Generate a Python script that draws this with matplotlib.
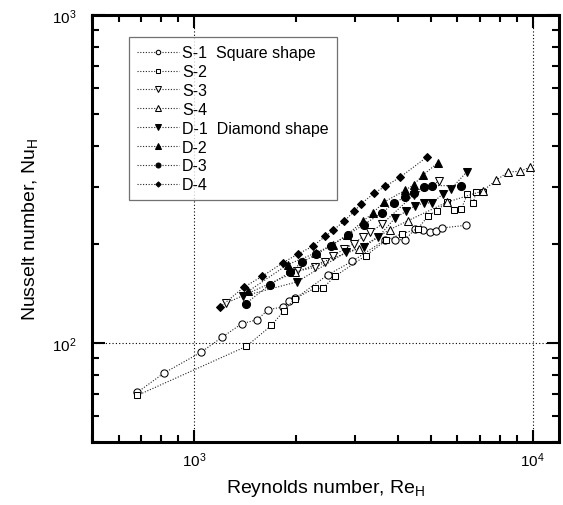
import matplotlib
matplotlib.use('Agg')
import matplotlib.pyplot as plt
from matplotlib.ticker import LogLocator, NullFormatter

plt.rcParams['font.family'] = ['Liberation Sans', 'DejaVu Sans']
plt.rcParams['mathtext.default'] = 'regular'

# Reynolds number / Nusselt number
re_s1 = [681, 817, 1050, 1215, 1385, 1539, 1659, 1829, 1910, 1996, 2491, 2933,
         3677, 3927, 4205, 4501, 4760, 4985, 5196, 5403, 6340]
nu_s1 = [70.7, 81.0, 93.7, 104.3, 114.5, 117.8, 126.4, 128.8, 134.3, 136.8, 161.6, 177.4,
         206.5, 206.5, 206.5, 222.6, 221.6, 217.9, 219.0, 224.2, 228.5]

re_s2 = [681, 1430, 1696, 1847, 1987, 2272, 2402, 2609, 3217, 3696, 4114, 4578,
         4926, 5209, 5577, 5868, 6161, 6422, 6677, 6808, 7131]
nu_s2 = [69.2, 97.7, 113.2, 125.5, 136.6, 146.8, 146.8, 159.7, 184.6, 205.6, 215.4, 222.6,
         244.5, 253.3, 268.5, 253.9, 256.3, 284.6, 267.3, 288.6, 288.0]

re_s3 = [1248, 2016, 2272, 2443, 2577, 2773, 2969, 3155, 3320, 3589, 4457, 5285]
nu_s3 = [132.4, 165.4, 170.1, 176.2, 184.6, 193.0, 200.9, 210.9, 217.9, 230.1, 282.7, 311.2]

re_s4 = [1987, 3065, 3786, 4288, 5577, 7131, 7803, 8475, 9184, 9806]
nu_s4 = [164.2, 194.0, 221.6, 236.0, 268.5, 291.0, 313.4, 332.3, 333.9, 343.4]

re_d1 = [1400, 2016, 2807, 3170, 3494, 3927, 4236, 4501, 4783, 5047, 5456, 5741, 6391]
nu_d1 = [139.0, 153.6, 188.9, 196.2, 209.9, 240.5, 252.1, 262.3, 267.3, 267.3, 285.3, 294.9, 332.3]

re_d2 = [1447, 1892, 2288, 2577, 2835, 3155, 3377, 3634, 4205, 4457, 4760, 5248]
nu_d2 = [143.7, 173.4, 188.1, 199.5, 213.9, 234.9, 249.2, 268.5, 292.1, 304.0, 326.1, 353.9]

re_d3 = [1423, 1675, 1920, 2092, 2299, 2540, 2850, 3170, 3589, 3900, 4205, 4457,
         4783, 5047, 6161]
nu_d3 = [131.8, 150.6, 164.1, 176.7, 186.3, 198.0, 213.9, 229.5, 249.2, 267.3, 278.7, 286.6,
         299.1, 301.9, 301.9]

re_d4 = [1197, 1405, 1592, 1829, 2036, 2244, 2443, 2577, 2773, 2976, 3116, 3410,
         3677, 4073, 4878]
nu_d4 = [128.8, 147.9, 159.7, 175.4, 187.2, 197.1, 211.4, 220.5, 234.9, 252.1, 265.4, 286.6,
         300.5, 320.8, 369.1]

labels = ['S-1  Square shape', 'S-2', 'S-3', 'S-4',
          'D-1  Diamond shape', 'D-2', 'D-3', 'D-4']

series = [(re_s1, nu_s1, 'o', 'white', 5.2),
          (re_s2, nu_s2, 's', 'white', 5.0),
          (re_s3, nu_s3, 'v', 'white', 6),
          (re_s4, nu_s4, '^', 'white', 6),
          (re_d1, nu_d1, 'v', 'black', 6),
          (re_d2, nu_d2, '^', 'black', 6),
          (re_d3, nu_d3, 'o', 'black', 5.8),
          (re_d4, nu_d4, 'D', 'black', 4.3)]

fig = plt.figure(figsize=(5.63, 5.06), dpi=100)
ax = fig.add_axes([0.163, 0.125, 0.8306, 0.8433])

for (x, y, m, fc, ms), lab in zip(series, labels):
    ax.plot(x, y, linestyle=(0, (1, 1.5)), color='0.15', linewidth=0.8,
            marker=m, markerfacecolor=fc, markeredgecolor='black',
            markeredgewidth=0.75, markersize=ms, label=lab, zorder=3)

ax.set_xscale('log')
ax.set_yscale('log')
ax.set_xlim(500, 12000)
ax.set_ylim(50, 1000)

ax.xaxis.set_minor_locator(LogLocator(subs=range(2, 10)))
ax.yaxis.set_minor_locator(LogLocator(subs=range(2, 10)))
ax.xaxis.set_minor_formatter(NullFormatter())
ax.yaxis.set_minor_formatter(NullFormatter())

ax.grid(True, which='major', color='black', linestyle=(0, (1, 2)), linewidth=0.8)

for s in ax.spines.values():
    s.set_linewidth(2.2)

ax.tick_params(which='both', direction='in', top=True, right=True,
               labelsize=11, width=1.5)
ax.tick_params(which='major', length=9)
ax.tick_params(which='minor', length=5)
ax.tick_params(axis='x', which='major', pad=6)
ax.tick_params(axis='y', which='major', pad=11)

ax.set_xlabel('Reynolds number, Re$_\\mathregular{H}$', fontsize=14, labelpad=6)
ax.set_ylabel('Nusselt number, Nu$_\\mathregular{H}$', fontsize=14, labelpad=9)

leg = ax.legend(loc='upper left', bbox_to_anchor=(0.0804, 0.9477), borderaxespad=0,
                fontsize=11.5, frameon=True, fancybox=False, edgecolor='0.3',
                handlelength=2.6, handletextpad=0.2, labelspacing=0.24,
                borderpad=0.5, markerscale=0.62)
leg.get_frame().set_linewidth(0.9)

fig.savefig('out.png', dpi=100)
